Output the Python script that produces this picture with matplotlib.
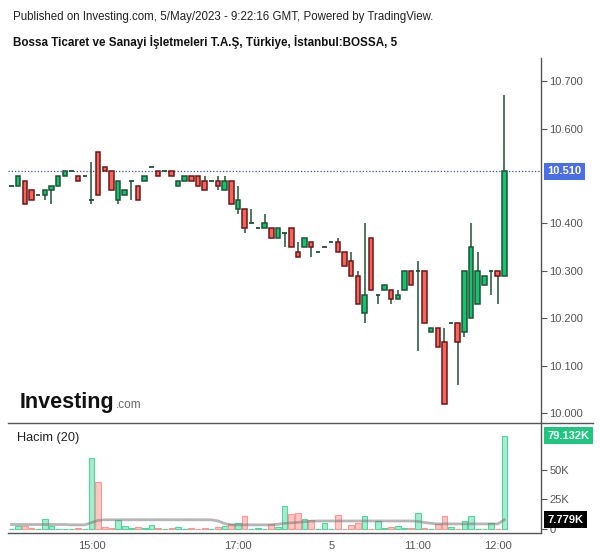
import matplotlib
matplotlib.use("Agg")
import matplotlib.pyplot as plt
from matplotlib.lines import Line2D
import matplotlib.transforms as mtransforms

plt.rcParams['font.family'] = ['Liberation Sans', 'DejaVu Sans']

# 5-minute bars, BOSSA
opens = [10.48, 10.48, 10.49, 10.47, 10.46, 10.46, 10.47, 10.48, 10.50, 10.51,
         10.50, 10.50, 10.45, 10.55, 10.52, 10.51, 10.45, 10.46, 10.49, 10.48,
         10.49, 10.52, 10.51, 10.51, 10.51, 10.48, 10.49, 10.50, 10.50, 10.49,
         10.49, 10.49, 10.47, 10.49, 10.43, 10.43, 10.40, 10.39, 10.39, 10.39,
         10.37, 10.38, 10.39, 10.34, 10.35, 10.36, 10.34, 10.35, 10.36, 10.36,
         10.34, 10.32, 10.29, 10.21, 10.37, 10.25, 10.26, 10.26, 10.24, 10.26,
         10.30, 10.30, 10.30, 10.17, 10.18, 10.15, 10.19, 10.19, 10.17, 10.20,
         10.23, 10.27, 10.30, 10.30, 10.29]
highs = [10.48, 10.50, 10.49, 10.47, 10.46, 10.47, 10.48, 10.50, 10.51, 10.51,
         10.50, 10.50, 10.53, 10.55, 10.52, 10.51, 10.49, 10.47, 10.49, 10.48,
         10.50, 10.52, 10.51, 10.51, 10.51, 10.49, 10.50, 10.50, 10.50, 10.50,
         10.49, 10.50, 10.50, 10.49, 10.48, 10.43, 10.43, 10.39, 10.42, 10.39,
         10.39, 10.38, 10.39, 10.36, 10.37, 10.36, 10.34, 10.35, 10.36, 10.37,
         10.34, 10.34, 10.30, 10.40, 10.37, 10.25, 10.27, 10.26, 10.26, 10.30,
         10.30, 10.32, 10.30, 10.18, 10.18, 10.18, 10.19, 10.19, 10.30, 10.40,
         10.34, 10.29, 10.30, 10.30, 10.67]
lows = [10.48, 10.48, 10.44, 10.45, 10.46, 10.45, 10.44, 10.48, 10.50, 10.51,
        10.49, 10.50, 10.44, 10.46, 10.51, 10.47, 10.44, 10.46, 10.45, 10.45,
        10.49, 10.52, 10.50, 10.51, 10.50, 10.48, 10.49, 10.49, 10.48, 10.47,
        10.49, 10.47, 10.47, 10.44, 10.42, 10.38, 10.40, 10.39, 10.39, 10.37,
        10.37, 10.35, 10.35, 10.33, 10.35, 10.33, 10.34, 10.35, 10.36, 10.34,
        10.31, 10.29, 10.23, 10.19, 10.26, 10.23, 10.26, 10.23, 10.24, 10.26,
        10.27, 10.13, 10.19, 10.17, 10.14, 10.02, 10.19, 10.06, 10.16, 10.20,
        10.23, 10.27, 10.25, 10.23, 10.29]
closes = [10.48, 10.50, 10.44, 10.45, 10.46, 10.47, 10.48, 10.50, 10.51, 10.51,
          10.49, 10.50, 10.45, 10.46, 10.51, 10.47, 10.49, 10.47, 10.49, 10.45,
          10.50, 10.52, 10.50, 10.51, 10.50, 10.49, 10.50, 10.49, 10.48, 10.47,
          10.49, 10.48, 10.49, 10.44, 10.45, 10.39, 10.40, 10.39, 10.40, 10.37,
          10.39, 10.38, 10.35, 10.33, 10.37, 10.35, 10.34, 10.35, 10.36, 10.34,
          10.31, 10.29, 10.23, 10.25, 10.26, 10.25, 10.27, 10.24, 10.25, 10.30,
          10.27, 10.30, 10.19, 10.18, 10.14, 10.02, 10.19, 10.15, 10.30, 10.35,
          10.30, 10.29, 10.30, 10.29, 10.51]
# volume in thousands
volumes = [0.3, 2.5, 2.5, 0.6, 0.3, 8.5, 2.5, 0.4, 0.4, 0.3,
           1.1, 0.3, 60.5, 40.0, 1.5, 0.8, 7.6, 2.5, 1.2, 2.0,
           0.5, 3.4, 1.2, 0.3, 0.5, 1.8, 0.4, 1.0, 0.3, 1.0,
           0.3, 1.7, 2.5, 4.2, 5.0, 11.0, 0.3, 1.0, 0.3, 4.2,
           1.7, 19.5, 12.7, 13.5, 8.5, 7.6, 0.3, 5.0, 0.2, 12.0,
           0.3, 3.4, 5.0, 11.0, 0.3, 6.8, 0.7, 1.7, 2.5, 1.0,
           1.0, 13.5, 1.0, 0.3, 4.2, 11.0, 1.7, 0.3, 6.8, 11.0,
           0.3, 0.3, 5.0, 0.3, 79.132]
# 20-period volume average as drawn (thousands)
volume_ma = [3.8, 3.8, 3.8, 3.8, 3.8, 3.8, 3.8, 3.8, 3.8, 3.5,
             3.5, 3.5, 5.5, 7.2, 7.8, 7.8, 7.8, 7.8, 7.8, 7.8,
             7.8, 7.8, 7.8, 7.8, 7.8, 7.8, 7.8, 7.8, 7.8, 7.8,
             7.8, 6.8, 4.6, 3.5, 3.5, 3.5, 3.5, 3.5, 3.5, 3.5,
             4.0, 4.8, 5.2, 5.6, 6.2, 6.6, 6.8, 6.8, 6.8, 6.8,
             6.8, 6.8, 6.8, 6.8, 6.8, 6.8, 6.8, 6.8, 6.8, 6.8,
             6.8, 6.5, 5.5, 4.8, 4.3, 4.3, 4.3, 4.3, 4.3, 4.3,
             4.3, 4.3, 4.3, 4.3, 7.779]
tick_pos = [12, 34, 48, 61, 73]
tick_labels = ['15:00', '17:00', '5', '11:00', '12:00']
# 10.500 and 75K sit behind the value labels, so they are left out
price_ticks = [10.0, 10.1, 10.2, 10.3, 10.4, 10.6, 10.7]
vol_ticks = [0, 25, 50]
vol_tick_labels = ['0', '25K', '50K']
last_price = 10.51

W, H = 600, 558
fig = plt.figure(figsize=(W / 100, H / 100), dpi=100)

def fx(px):
    return px / W

def fy(py):
    return 1 - py / H

ax_l, ax_r = 8, 541
ax1 = fig.add_axes([fx(ax_l), fy(423), fx(ax_r - ax_l), fy(58) - fy(423)])
ax2 = fig.add_axes([fx(ax_l), fy(533), fx(ax_r - ax_l), fy(423) - fy(533)])

up_fill, up_edge = '#12c46e', '#1f5235'
dn_fill, dn_edge = '#f4665c', '#6e1616'
wick_col = '#1f5235'
axis_col = '#555555'
txt_col = '#555555'

n = len(opens)
xs = list(range(n))
bw = 0.68
for i in xs:
    o, h, l, c = opens[i], highs[i], lows[i], closes[i]
    ax1.vlines(i, l, h, color=wick_col, lw=1.1, zorder=2)
    if abs(c - o) < 1e-9:
        ax1.hlines(o, i - bw / 2, i + bw / 2, color=wick_col, lw=1.3, zorder=3)
    else:
        up = c > o
        ax1.bar(i, abs(c - o), bottom=min(o, c), width=bw,
                color=up_fill if up else dn_fill,
                edgecolor=up_edge if up else dn_edge, linewidth=1.1, zorder=3)

ax1.axhline(last_price, color='#3a4fa0', lw=0.9, ls=(0, (1, 1.6)), zorder=1)

ax1.set_xlim(-0.53, 79.5)
ax1.set_ylim(9.979, 10.749)
ax1.yaxis.tick_right()
ax1.set_yticks(price_ticks)
ax1.set_yticklabels(['%.3f' % p for p in price_ticks])
ax1.tick_params(axis='y', colors=axis_col, labelcolor=txt_col, labelsize=8,
                length=4, width=0.8, pad=2)
ax1.set_xticks([])
for s in ['left', 'top', 'bottom']:
    ax1.spines[s].set_visible(False)
ax1.spines['right'].set_color(axis_col)
ax1.spines['right'].set_linewidth(1.0)

trans1 = mtransforms.blended_transform_factory(ax1.transAxes, ax1.transData)
ax1.text(1.012, last_price, '10.510', transform=trans1, fontsize=8,
         fontweight='bold', color='white', ha='left', va='center', zorder=10,
         clip_on=False,
         bbox=dict(boxstyle='square,pad=0.3', fc='#4a6ee8', ec='none'))

# volume panel
vol_up = [closes[i] >= opens[i] for i in xs]
for i in xs:
    ax2.bar(i, volumes[i], width=0.86,
            color='#a6ecd0' if vol_up[i] else '#fdc8c4',
            edgecolor='#55d49c' if vol_up[i] else '#f59b95',
            linewidth=0.8, zorder=2)
ax2.plot(xs, volume_ma, color='#7a7a7a', lw=2.0, alpha=0.55, zorder=3)

ax2.set_xlim(-0.53, 79.5)
ax2.set_ylim(-3.4, 89.8)
ax2.yaxis.tick_right()
ax2.set_yticks(vol_ticks)
ax2.set_yticklabels(vol_tick_labels)
ax2.set_xticks(tick_pos)
ax2.set_xticklabels(tick_labels)
ax2.tick_params(axis='y', colors=axis_col, labelcolor=txt_col, labelsize=8,
                length=4, width=0.8, pad=2)
ax2.tick_params(axis='x', labelcolor=txt_col, labelsize=8, length=0, pad=6)
ax2.spines['left'].set_visible(False)
ax2.spines['top'].set_visible(False)
for s in ['right', 'bottom']:
    ax2.spines[s].set_color(axis_col)
    ax2.spines[s].set_linewidth(1.0)

trans2 = mtransforms.blended_transform_factory(ax2.transAxes, ax2.transData)
ax2.text(1.012, volumes[-1], '79.132K', transform=trans2, fontsize=8,
         fontweight='bold', color='white', ha='left', va='center', zorder=10,
         clip_on=False,
         bbox=dict(boxstyle='square,pad=0.3', fc='#1ec67f', ec='none'))
ax2.text(1.012, volume_ma[-1], '7.779K', transform=trans2, fontsize=8,
         fontweight='bold', color='white', ha='left', va='center', zorder=10,
         clip_on=False,
         bbox=dict(boxstyle='square,pad=0.3', fc='black', ec='none'))
ax2.text(0.017, 0.86, 'Hacim (20)', transform=ax2.transAxes, fontsize=9.2,
         color='#222222', ha='left', va='center')

# separator between panels
fig.add_artist(Line2D([fx(ax_l), fx(593)], [fy(423), fy(423)],
                      color=axis_col, lw=1.0))

# header
fig.text(fx(13), fy(17), 'Published on Investing.com, 5/May/2023 - 9:22:16 GMT, Powered by TradingView.',
         fontsize=8.3, color='#222222', ha='left', va='center')
fig.text(fx(13), fy(42), 'Bossa Ticaret ve Sanayi İşletmeleri T.A.Ş, Türkiye, İstanbul:BOSSA, 5',
         fontsize=8.4, fontweight='bold', color='#111111', ha='left', va='center')

# logo
fig.text(fx(20), fy(408), 'Investing', fontsize=15.5, fontweight='bold',
         color='#111111', ha='left', va='baseline')
fig.text(fx(116), fy(408), '.com', fontsize=8.5, color='#666666',
         ha='left', va='baseline')

fig.savefig('out.png', dpi=100)
